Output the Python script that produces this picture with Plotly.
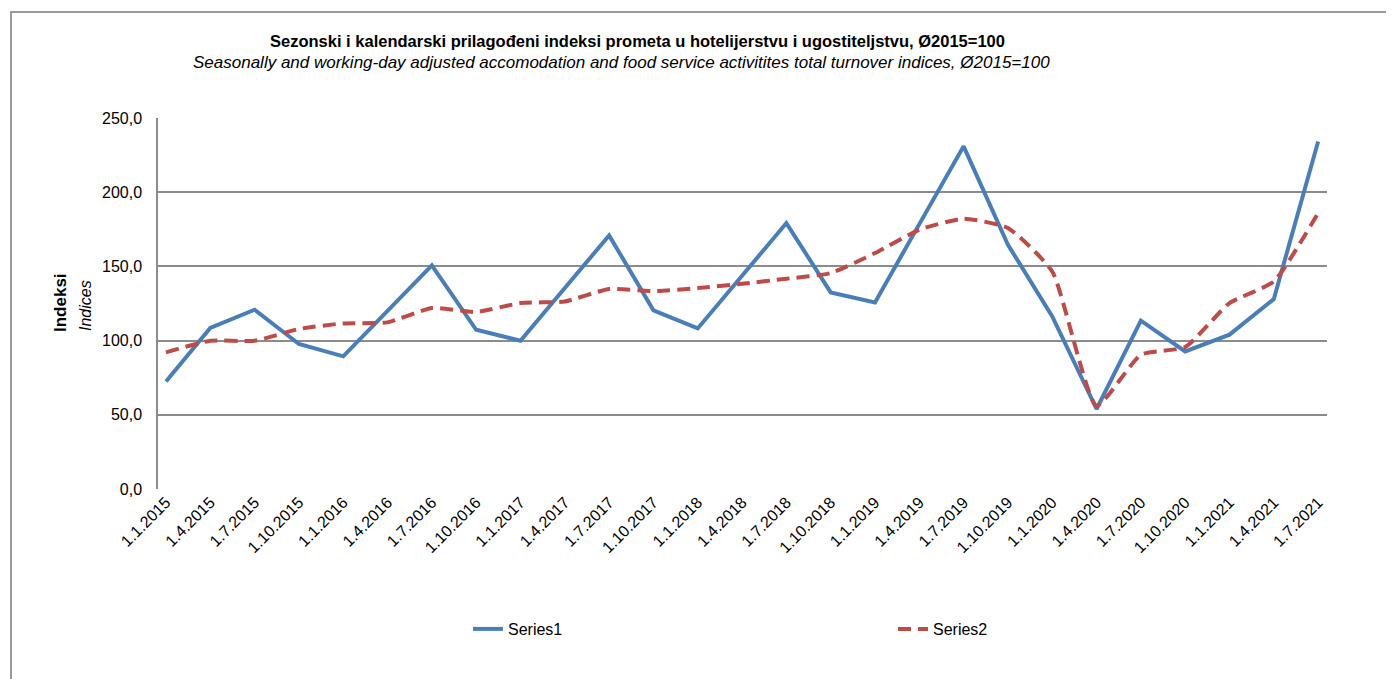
import plotly.graph_objects as go

categories = ["1.1.2015", "1.4.2015", "1.7.2015", "1.10.2015",
              "1.1.2016", "1.4.2016", "1.7.2016", "1.10.2016",
              "1.1.2017", "1.4.2017", "1.7.2017", "1.10.2017",
              "1.1.2018", "1.4.2018", "1.7.2018", "1.10.2018",
              "1.1.2019", "1.4.2019", "1.7.2019", "1.10.2019",
              "1.1.2020", "1.4.2020", "1.7.2020", "1.10.2020",
              "1.1.2021", "1.4.2021", "1.7.2021"]

series1 = [72.5, 108.5, 120.8, 97.7, 89.4, 120.1, 150.7, 107.3, 99.9,
           135.4, 170.9, 120.4, 108.2, 143.7, 179.2, 132.5, 125.7, 178.5,
           230.9, 164.6, 116.3, 53.9, 113.4, 92.7, 104.0, 128.0, 234.2]

series2 = [92.1, 99.9, 99.9, 107.8, 111.6, 112.3, 122.0, 119.3, 125.3,
           126.4, 134.8, 133.4, 135.4, 138.3, 141.7, 145.5, 159.0, 174.7,
           182.1, 175.9, 146.6, 56.1, 90.5, 95.7, 125.3, 139.9, 186.0]

y_ticks = [0, 50, 100, 150, 200, 250]

W, H = 1394, 679
OFF = 8  # page body margin
# desired on-screen plot area
L, R, T, B = 158, 1327, 118, 489

def px_x(p):
    return (p - L) / (R - L)

def px_y(p):
    return (B - p) / (B - T)

fig = go.Figure()
fig.add_trace(go.Scatter(x=categories, y=series1, name="Series1", mode="lines",
                         line=dict(color="#4A7EBB", width=4)))
fig.add_trace(go.Scatter(x=categories, y=series2, name="Series2", mode="lines",
                         line=dict(color="#BE4B48", width=4, dash="13px,7px",
                                   shape="spline", smoothing=0.5)))

font_family = "Liberation Sans, Arial, sans-serif"

fig.update_layout(
    width=W, height=H,
    margin=dict(l=L - OFF, r=W - (R - OFF), t=T - OFF, b=H - (B - OFF)),
    paper_bgcolor="white", plot_bgcolor="white",
    separators=",.",
    font=dict(family=font_family, size=16, color="black"),
    showlegend=True,
    legend=dict(orientation="h", x=px_x(468), y=px_y(629), xanchor="left", yanchor="middle",
                entrywidth=380, entrywidthmode="pixels",
                font=dict(size=16, family=font_family), bgcolor="rgba(0,0,0,0)"),
    xaxis=dict(type="category", range=[-0.18, 26.2], tickangle=-45,
               showgrid=False, showline=False, ticks="", zeroline=False,
               tickfont=dict(size=16, family=font_family)),
    yaxis=dict(range=[0, 250], tickvals=y_ticks, tickformat=".1f",
               showgrid=True, gridcolor="#8C8C8C", gridwidth=1.5,
               showline=True, linecolor="#8C8C8C", linewidth=1.5,
               zeroline=False, ticks="", ticklabelstandoff=11,
               tickfont=dict(size=16, family=font_family)),
    shapes=[dict(type="rect", xref="paper", yref="paper",
                 x0=px_x(11), x1=px_x(1430), y0=px_y(720), y1=px_y(12),
                 line=dict(color="#9A9A9A", width=2), fillcolor="rgba(0,0,0,0)",
                 layer="below")],
    annotations=[
        dict(text="<b>Sezonski i kalendarski prilagođeni indeksi prometa u hotelijerstvu i ugostiteljstvu, Ø2015=100</b>",
             xref="paper", yref="paper", x=px_x(637), y=px_y(41), showarrow=False,
             xanchor="center", yanchor="middle", font=dict(size=16.5, family=font_family)),
        dict(text="<i>Seasonally and working-day adjusted accomodation and food service activitites total turnover indices, Ø2015=100</i>",
             xref="paper", yref="paper", x=px_x(621), y=px_y(63), showarrow=False,
             xanchor="center", yanchor="middle", font=dict(size=17, family=font_family)),
        dict(text="<b>Indeksi</b>", xref="paper", yref="paper", x=px_x(60), y=px_y(303),
             showarrow=False, textangle=-90, xanchor="center", yanchor="middle",
             font=dict(size=17, family=font_family)),
        dict(text="<i>Indices</i>", xref="paper", yref="paper", x=px_x(85), y=px_y(306),
             showarrow=False, textangle=-90, xanchor="center", yanchor="middle",
             font=dict(size=16, family=font_family)),
    ],
)

fig.write_html("out.html")
